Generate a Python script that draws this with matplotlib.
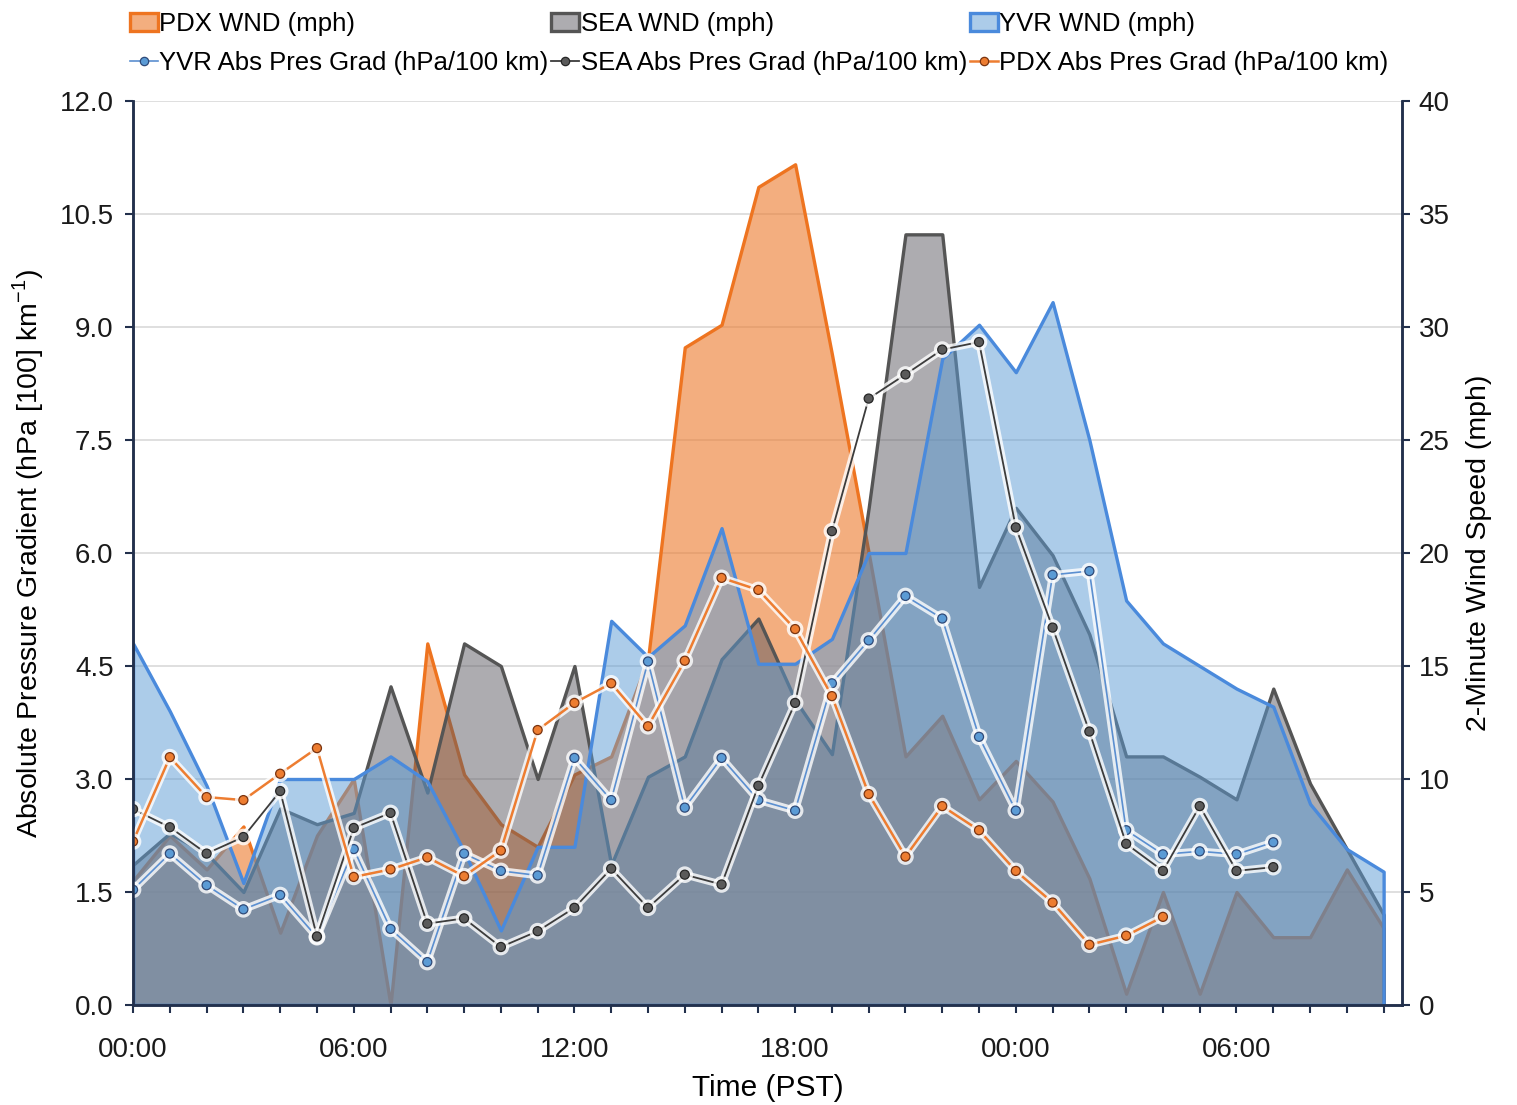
import matplotlib.pyplot as plt
import matplotlib.patheffects as pe
import matplotlib.colors as mcolors
from matplotlib.lines import Line2D
import numpy as np

plt.rcParams["font.family"] = ["Liberation Sans", "DejaVu Sans"]
plt.rcParams["mathtext.fontset"] = "custom"
plt.rcParams["mathtext.rm"] = "Liberation Sans"

# ---------- hourly data, hour 0 = 00:00 PST day one ----------------------------

hours = np.arange(35)

pdx_wnd = [5.5, 7.5, 6.0, 7.9, 3.2, 7.5, 10.0, 0.0, 16.0, 10.2, 8.0, 7.0,
           10.2, 11.0, 15.3, 29.1, 30.1, 36.2, 37.2, 28.8, 20.0, 11.0, 12.8,
           9.1, 10.8, 9.0, 5.6, 0.5, 5.0, 0.5, 5.0, 3.0, 3.0, 6.0, 3.4]
sea_wnd = [6.2, 7.6, 6.7, 5.0, 8.7, 8.0, 8.5, 14.1, 9.4, 16.0, 15.0, 10.0,
           15.0, 6.2, 10.1, 11.0, 15.3, 17.1, 13.5, 11.1, 22.0, 34.1, 34.1,
           18.5, 22.0, 19.9, 16.4, 11.0, 11.0, 10.1, 9.1, 14.0, 9.8, 6.9, 4.0]
yvr_wnd = [16.0, 13.0, 9.7, 5.4, 10.0, 10.0, 10.0, 11.0, 9.9, 6.8, 3.3, 7.0,
           7.0, 17.0, 15.4, 16.8, 21.1, 15.1, 15.1, 16.2, 20.0, 20.0, 28.6,
           30.1, 28.0, 31.1, 25.0, 17.9, 16.0, 15.0, 14.0, 13.2, 8.9, 6.9, 5.9]

yvr_grad_hours = np.arange(32)
yvr_grad = [1.53, 2.01, 1.59, 1.27, 1.46, 0.90, 2.07, 1.01, 0.57, 2.01, 1.78,
            1.72, 3.28, 2.72, 4.56, 2.62, 3.28, 2.72, 2.58, 4.27, 4.84, 5.43,
            5.13, 3.56, 2.58, 5.71, 5.76, 2.32, 2.00, 2.04, 2.00, 2.16]
sea_grad_hours = np.arange(32)
sea_grad = [2.60, 2.36, 2.01, 2.23, 2.84, 0.91, 2.35, 2.55, 1.08, 1.15, 0.77,
            0.98, 1.29, 1.81, 1.29, 1.73, 1.60, 2.91, 4.01, 6.29, 8.05, 8.37,
            8.70, 8.80, 6.34, 5.01, 3.63, 2.14, 1.78, 2.64, 1.78, 1.83]
pdx_grad_hours = np.arange(29)
pdx_grad = [2.17, 3.29, 2.76, 2.72, 3.07, 3.41, 1.70, 1.80, 1.96, 1.71, 2.05,
            3.65, 4.01, 4.27, 3.70, 4.57, 5.67, 5.51, 4.99, 4.10, 2.80, 1.97,
            2.64, 2.32, 1.78, 1.36, 0.80, 0.92, 1.17]

time_ticks = [0, 6, 12, 18, 24, 30]
time_labels = ["00:00", "06:00", "12:00", "18:00", "00:00", "06:00"]

AXIS_COLOR = "#22304c"

# ---------- figure ----------------------------------------------------------

fig = plt.figure(figsize=(15.17, 11.05), dpi=100)
ax_w = fig.add_axes([0.0877, 0.0905, 0.8365, 0.8181])
ax_g = ax_w.twinx()

# wind on the right axis, pressure gradient on the left axis
ax_w.yaxis.tick_right()
ax_w.yaxis.set_label_position("right")
ax_g.yaxis.tick_left()
ax_g.yaxis.set_label_position("left")

areas = [
    ("PDX WND (mph)", pdx_wnd, "#ED7D31", 0.62, "#EE7420"),
    ("SEA WND (mph)", sea_wnd, "#5C5A62", 0.50, "#555555"),
    ("YVR WND (mph)", yvr_wnd, "#5B9BD5", 0.50, "#4A8ADC"),
]
area_handles = []
for label, vals, face, alpha, edge in areas:
    h = ax_w.fill_between(hours, vals, 0, facecolor=mcolors.to_rgba(face, alpha),
                          edgecolor=edge, linewidth=2.4, label=label)
    area_handles.append(h)

glow = [pe.Stroke(linewidth=5.5, foreground="white", alpha=0.8), pe.Normal()]
lines = [
    ("YVR Abs Pres Grad (hPa/100 km)", yvr_grad_hours, yvr_grad, "#5B8FD0", "#5B9BD5", "#2F4A78", 1.2),
    ("SEA Abs Pres Grad (hPa/100 km)", sea_grad_hours, sea_grad, "#3C3C3C", "#5A5A5A", "#262626", 1.3),
    ("PDX Abs Pres Grad (hPa/100 km)", pdx_grad_hours, pdx_grad, "#ED7D31", "#ED7D31", "#7A3410", 1.8),
]
line_handles = []
for label, xs, ys, color, mfc, mec, lw in lines:
    ax_g.plot(xs, ys, color=color, lw=lw, marker="o", ms=6.5, mfc=mfc,
              mec=mec, mew=0.9, path_effects=glow)
    # plain copy for the legend, without the white glow
    line_handles.append(Line2D([], [], color=color, lw=lw, marker="o", ms=6,
                               mfc=mfc, mec=mec, mew=0.9, label=label))

# axes ranges and ticks
ax_w.set_xlim(0, 34.5)
ax_w.set_ylim(0, 40)
ax_g.set_ylim(0, 12)
ax_w.set_yticks(np.arange(0, 41, 5))
ax_g.set_yticks(np.arange(0, 12.01, 1.5))
ax_g.set_yticklabels([f"{v:.1f}" for v in np.arange(0, 12.01, 1.5)])
ax_w.set_xticks(time_ticks)
ax_w.set_xticklabels(time_labels)
ax_w.set_xticks(hours, minor=True)

ax_w.grid(axis="y", color="#dcdcdc", linewidth=1.3)
ax_w.set_axisbelow(True)

for ax in (ax_w, ax_g):
    ax.spines["top"].set_visible(False)
    for s in ("left", "right", "bottom"):
        ax.spines[s].set_color(AXIS_COLOR)
        ax.spines[s].set_linewidth(1.8)
    ax.tick_params(which="both", direction="out", length=6, width=1.5,
                   color=AXIS_COLOR, labelsize=20, labelcolor="#1a1a1a")
ax_w.tick_params(axis="x", which="major", pad=17)
ax_w.tick_params(axis="y", pad=6)
ax_g.tick_params(axis="y", pad=8)

ax_w.set_xlabel("Time (PST)", fontsize=21.5, labelpad=8)
ax_g.set_ylabel("Absolute Pressure Gradient (hPa [100] km$^{-1}$)", fontsize=20.5, labelpad=10)
ax_w.set_ylabel("2-Minute Wind Speed (mph)", fontsize=20.5, labelpad=12)

handles = [area_handles[0], line_handles[0], area_handles[1], line_handles[1],
           area_handles[2], line_handles[2]]
fig.legend(handles, [h.get_label() for h in handles], loc="upper left",
           bbox_to_anchor=(0.0855, 0.989), ncol=3, frameon=False, fontsize=18.5,
           handlelength=1.1, handleheight=0.7, handletextpad=0.05,
           columnspacing=0.1, labelspacing=0.58, borderaxespad=0, borderpad=0)

fig.savefig("out.png", dpi=100)
